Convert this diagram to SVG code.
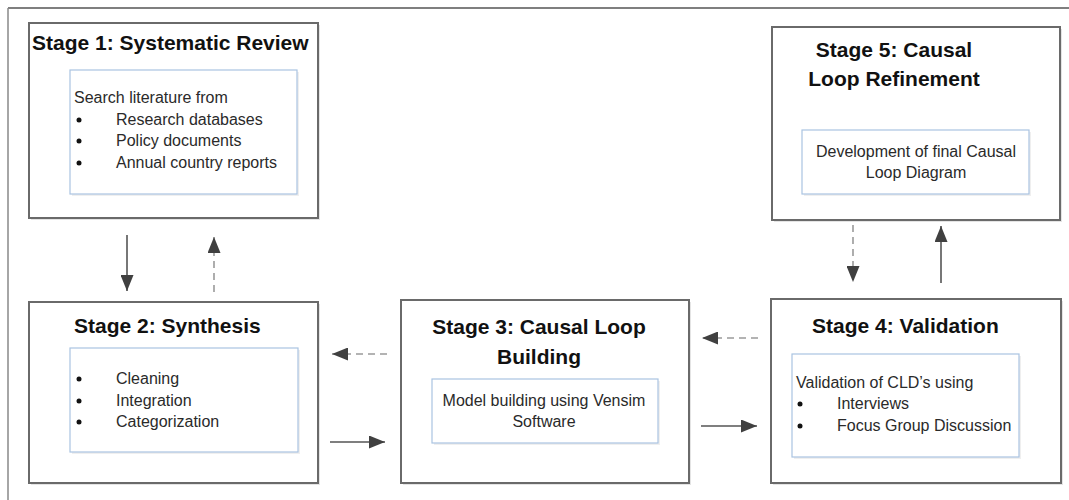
<svg xmlns="http://www.w3.org/2000/svg" width="1069" height="500" viewBox="0 0 1069 500">
<style>
.stage{fill:#fff;stroke:#6a6a6a;stroke-width:2}
.shadow{fill:#e4e4e4}
.inner{fill:#fff;stroke:#aac4e2;stroke-width:1.2}
.ishadow{fill:#efefef}
.title{font-family:"Liberation Sans",Arial,sans-serif;font-weight:bold;font-size:21px;fill:#111}
.body{font-family:"Liberation Sans",Arial,sans-serif;font-size:16px;fill:#2a2a2a}
.mid{text-anchor:middle}
.bul{fill:#111}
.solid{stroke:#555;stroke-width:1.6;fill:none}
.dash{stroke:#9a9a9a;stroke-width:1.6;fill:none;stroke-dasharray:7 5}
</style>
<defs>
<marker id="ah" markerUnits="userSpaceOnUse" markerWidth="16" markerHeight="13" refX="16" refY="6.5" orient="auto">
<path d="M0,0 L16,6.5 L0,13 Z" fill="#404040"/>
</marker>
</defs>
<rect width="1069" height="500" fill="#fff"/>
<g id="frame">
<line x1="8" y1="8" x2="1069" y2="8" stroke="#555" stroke-width="1.5"/>
<line x1="8" y1="8" x2="8" y2="500" stroke="#888" stroke-width="1.5"/>
</g>
<g id="stage1">
<rect class="shadow" x="31" y="25" width="289" height="195"/>
<rect class="stage" x="29" y="23" width="289" height="195"/>
<text class="title" x="32" y="50">Stage 1: Systematic Review</text>
<rect class="ishadow" x="72" y="72" width="227" height="124"/>
<rect class="inner" x="70" y="70" width="227" height="124"/>
<text class="body" x="74" y="103">Search literature from</text>
<circle class="bul" cx="79" cy="120" r="2.5"/>
<circle class="bul" cx="79" cy="141" r="2.5"/>
<circle class="bul" cx="79" cy="163" r="2.5"/>
<text class="body" x="116" y="125">Research databases</text>
<text class="body" x="116" y="146">Policy documents</text>
<text class="body" x="116" y="168">Annual country reports</text>
</g>
<g id="stage2">
<rect class="shadow" x="31" y="304" width="289" height="181"/>
<rect class="stage" x="29" y="302" width="289" height="181"/>
<text class="title" x="74" y="333">Stage 2: Synthesis</text>
<rect class="ishadow" x="72" y="350" width="228" height="104"/>
<rect class="inner" x="70" y="348" width="228" height="104"/>
<circle class="bul" cx="79" cy="379" r="2.5"/>
<circle class="bul" cx="79" cy="401" r="2.5"/>
<circle class="bul" cx="79" cy="422" r="2.5"/>
<text class="body" x="116" y="384">Cleaning</text>
<text class="body" x="116" y="406">Integration</text>
<text class="body" x="116" y="427">Categorization</text>
</g>
<g id="stage3">
<rect class="shadow" x="403" y="302" width="288" height="183"/>
<rect class="stage" x="401" y="300" width="288" height="183"/>
<text class="title mid" x="539" y="334">Stage 3: Causal Loop</text>
<text class="title mid" x="539" y="364">Building</text>
<rect class="ishadow" x="434" y="381" width="226" height="64"/>
<rect class="inner" x="432" y="379" width="226" height="64"/>
<text class="body mid" x="544" y="406">Model building using Vensim</text>
<text class="body mid" x="544" y="427">Software</text>
</g>
<g id="stage4">
<rect class="shadow" x="773" y="301" width="290" height="184"/>
<rect class="stage" x="771" y="299" width="290" height="184"/>
<text class="title" x="812" y="333">Stage 4: Validation</text>
<rect class="ishadow" x="794" y="356" width="227" height="103"/>
<rect class="inner" x="792" y="354" width="227" height="103"/>
<text class="body" x="796" y="388">Validation of CLD’s using</text>
<circle class="bul" cx="800" cy="404" r="2.5"/>
<circle class="bul" cx="800" cy="426" r="2.5"/>
<text class="body" x="837" y="409">Interviews</text>
<text class="body" x="837" y="431">Focus Group Discussion</text>
</g>
<g id="stage5">
<rect class="shadow" x="774" y="29" width="288" height="193"/>
<rect class="stage" x="772" y="27" width="288" height="193"/>
<text class="title mid" x="894" y="57">Stage 5: Causal</text>
<text class="title mid" x="894" y="86">Loop Refinement</text>
<rect class="ishadow" x="804" y="132" width="227" height="64"/>
<rect class="inner" x="802" y="130" width="227" height="64"/>
<text class="body mid" x="916" y="157">Development of final Causal</text>
<text class="body mid" x="916" y="178">Loop Diagram</text>
</g>
<g id="connectors">
<path class="solid" d="M127,235 L127,291" marker-end="url(#ah)"/>
<path class="dash" d="M214,292 L214,237" marker-end="url(#ah)"/>
<path class="dash" d="M387,354 L332,354" marker-end="url(#ah)"/>
<path class="solid" d="M330,442 L385,442" marker-end="url(#ah)"/>
<path class="dash" d="M758,338 L702,338" marker-end="url(#ah)"/>
<path class="solid" d="M701,426 L757,426" marker-end="url(#ah)"/>
<path class="dash" d="M853,225 L853,282" marker-end="url(#ah)"/>
<path class="solid" d="M941,283 L941,226" marker-end="url(#ah)"/>
</g>
</svg>
